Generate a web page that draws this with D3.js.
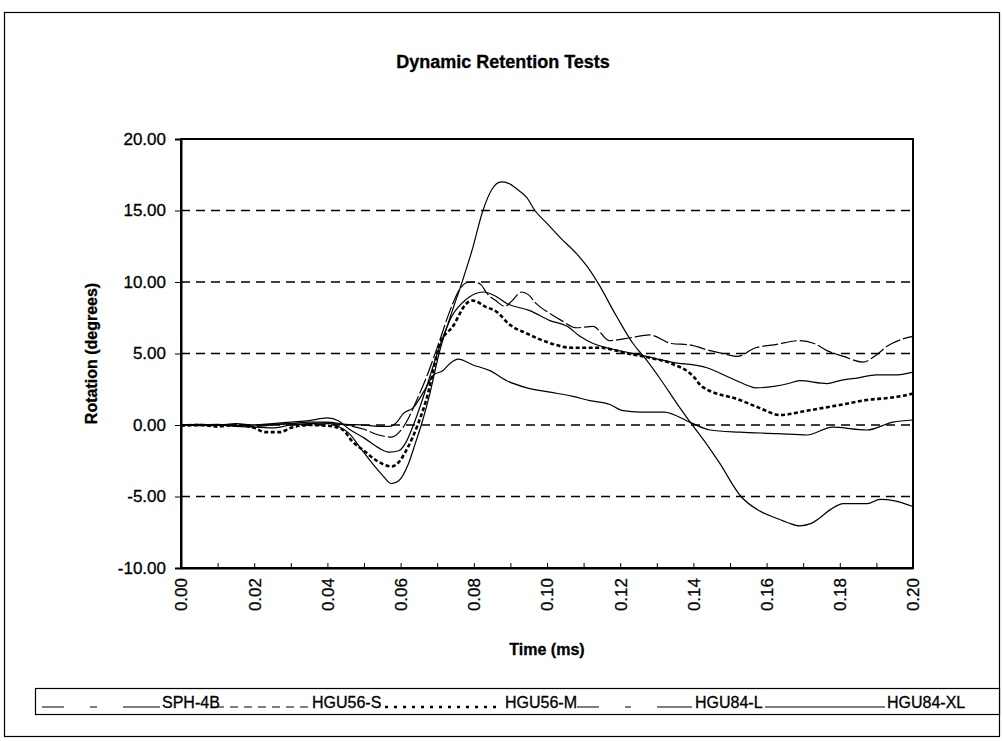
<!DOCTYPE html>
<html>
<head>
<meta charset="utf-8">
<script src="https://cdn.jsdelivr.net/npm/d3@7/dist/d3.min.js"></script>
<style>
  html, body { margin: 0; padding: 0; background: #fff; }
  svg { display: block; font-family: "Liberation Sans", Arial, sans-serif; }
  svg text { stroke: #000; stroke-width: 0.3px; fill: #000; }
</style>
</head>
<body>
<svg id="chart" width="1002" height="741"></svg>
<script>
// ---------- data ----------
const seriesNames = ["SPH-4B", "HGU56-S", "HGU56-M", "HGU84-L", "HGU84-XL"];
const yTicks = [-10, -5, 0, 5, 10, 15, 20];
const gridValues = [-5, 0, 5, 10, 15];
const xTickLabels = [0, 0.02, 0.04, 0.06, 0.08, 0.10, 0.12, 0.14, 0.16, 0.18, 0.20];

// [time (ms), rotation (degrees)]
const sph4b = [[0,0],[0.005,0],[0.01,-0.05],[0.015,0],[0.02,-0.1],[0.025,0],[0.03,0.1],[0.035,0],[0.04,0.1],[0.045,0],[0.05,-0.3],[0.054,-0.7],[0.0575,-0.85],[0.06,-0.4],[0.062,0.4],[0.064,1.5],[0.067,3.3],[0.0708,6],[0.0735,8],[0.0762,9.5],[0.078,9.95],[0.08,10.0],[0.082,9.8],[0.0836,9.2],[0.086,8.7],[0.0885,8.3],[0.0905,8.7],[0.093,9.3],[0.095,9.1],[0.097,8.5],[0.1008,7.8],[0.104,7.3],[0.108,6.8],[0.1126,6.9],[0.117,5.9],[0.1227,6.1],[0.128,6.3],[0.134,5.7],[0.139,5.6],[0.1445,5.2],[0.148,5.0],[0.152,4.8],[0.157,5.4],[0.162,5.6],[0.169,5.9],[0.173,5.7],[0.1765,5.2],[0.181,4.8],[0.1863,4.4],[0.19,4.9],[0.1929,5.5],[0.197,6.0],[0.2,6.2]];
const hgu56s = [[0,0],[0.005,0],[0.01,0.05],[0.015,-0.05],[0.02,0],[0.025,0.05],[0.03,0.1],[0.035,0.2],[0.04,0.2],[0.045,0.05],[0.05,0],[0.054,-0.1],[0.057,-0.1],[0.059,0.2],[0.0607,0.8],[0.0634,1.2],[0.0665,2.4],[0.069,3.5],[0.0715,3.8],[0.0735,4.3],[0.0757,4.6],[0.0798,4.2],[0.0844,3.8],[0.089,3.1],[0.0945,2.6],[0.1008,2.3],[0.1071,2.0],[0.1117,1.7],[0.117,1.45],[0.1208,1.0],[0.1254,0.9],[0.132,0.9],[0.139,0.2],[0.1445,-0.35],[0.1527,-0.5],[0.163,-0.6],[0.171,-0.7],[0.178,-0.15],[0.1874,-0.35],[0.1945,0.2],[0.2,0.35]];
const hgu56m = [[0,-0.05],[0.005,0],[0.01,-0.1],[0.015,0],[0.02,-0.2],[0.023,-0.5],[0.027,-0.5],[0.03,-0.2],[0.035,0],[0.04,-0.05],[0.044,-0.3],[0.047,-1.2],[0.05,-1.8],[0.0535,-2.5],[0.0575,-2.9],[0.0595,-2.6],[0.0615,-1.8],[0.0648,0.1],[0.067,1.75],[0.0708,5.7],[0.0743,6.9],[0.078,8.5],[0.0798,8.7],[0.083,8.3],[0.0863,7.9],[0.0899,7.0],[0.0945,6.4],[0.1,5.8],[0.107,5.4],[0.1145,5.4],[0.122,5.0],[0.128,4.7],[0.134,4.3],[0.14,3.4],[0.1423,2.7],[0.1527,1.75],[0.158,1.2],[0.1637,0.7],[0.171,1.0],[0.18,1.4],[0.1874,1.75],[0.1935,1.9],[0.1984,2.1],[0.2,2.2]];
const hgu84l = [[0,0],[0.005,0.05],[0.01,0],[0.015,0.1],[0.02,0],[0.025,0.1],[0.03,0.2],[0.035,0.3],[0.04,0.5],[0.043,0.3],[0.046,-0.3],[0.05,-0.9],[0.054,-1.6],[0.057,-1.9],[0.0595,-1.8],[0.0615,-1.2],[0.0635,0],[0.066,1.8],[0.0685,3.8],[0.0708,5.6],[0.074,7.6],[0.078,8.8],[0.0826,9.3],[0.086,9.0],[0.089,8.5],[0.0953,8.0],[0.1008,7.3],[0.1055,6.9],[0.109,6.2],[0.1126,5.7],[0.118,5.3],[0.1254,4.9],[0.134,4.4],[0.1437,4.0],[0.15,3.3],[0.1545,2.8],[0.157,2.6],[0.162,2.7],[0.166,2.9],[0.169,3.1],[0.1765,2.9],[0.18,3.1],[0.185,3.3],[0.19,3.5],[0.195,3.5],[0.2,3.7]];
const hgu84xl = [[0,0],[0.005,-0.05],[0.01,0],[0.015,-0.1],[0.02,-0.15],[0.025,-0.2],[0.03,0],[0.035,0.1],[0.04,0.15],[0.043,-0.1],[0.046,-0.6],[0.049,-1.6],[0.052,-2.6],[0.055,-3.5],[0.0575,-4.1],[0.0595,-3.9],[0.062,-2.8],[0.064,-1.3],[0.066,0.3],[0.068,2.2],[0.0705,5],[0.0735,7.5],[0.0768,10],[0.0795,12.2],[0.0825,15],[0.085,16.5],[0.0875,17],[0.0895,16.9],[0.0918,16.5],[0.0945,15.9],[0.0967,15],[0.1,14.1],[0.104,13.0],[0.108,12.0],[0.1115,10.9],[0.114,9.9],[0.119,7.6],[0.1235,5.7],[0.127,4.6],[0.131,3.2],[0.1355,1.5],[0.14,-0.1],[0.1435,-1.3],[0.147,-2.6],[0.153,-5],[0.158,-6],[0.1625,-6.5],[0.166,-6.85],[0.169,-7.05],[0.172,-6.9],[0.1745,-6.5],[0.1775,-5.9],[0.181,-5.5],[0.1875,-5.5],[0.191,-5.2],[0.195,-5.3],[0.2,-5.7]];

const seriesData = [sph4b, hgu56s, hgu56m, hgu84l, hgu84xl];

// ---------- styles ----------
const lineStyles = [
  { width: 1.2, dash: "16,3" },
  { width: 1.2, dash: null },
  { width: 2.6, dash: "4,2.5" },
  { width: 1.2, dash: null },
  { width: 1.2, dash: null }
];
const legendStyles = [
  { width: 1.2, dash: "22,26,7,26,40" },
  { width: 1.2, dash: "8,6" },
  { width: 2.4, dash: "3,6" },
  { width: 1.2, dash: "22,26,6,26,40" },
  { width: 1.2, dash: null }
];
const legendLayout = [
  { x1: 42, x2: 160, tx: 162 },
  { x1: 216, x2: 310, tx: 312 },
  { x1: 385, x2: 502, tx: 505 },
  { x1: 577, x2: 692, tx: 695 },
  { x1: 765, x2: 885, tx: 887 }
];

// ---------- layout ----------
const svg = d3.select("#chart");
const L = 181, R = 913, T = 139, B = 568;

const x = d3.scaleLinear().domain([0, 0.2]).range([L, R]);
const y = d3.scaleLinear().domain([-10, 20]).range([B, T]);

// outer border
svg.append("rect").attr("x", 4.5).attr("y", 12.5).attr("width", 995).attr("height", 724)
  .attr("fill", "none").attr("stroke", "#000").attr("stroke-width", 1.2);

// title
svg.append("text").attr("x", 503).attr("y", 68).attr("text-anchor", "middle")
  .style("font-size", "18px").style("font-weight", "bold").text("Dynamic Retention Tests");

// gridlines
svg.append("g").selectAll("line").data(gridValues).join("line")
  .attr("x1", L).attr("x2", R).attr("y1", d => y(d)).attr("y2", d => y(d))
  .attr("stroke", "#000").attr("stroke-width", 1.3).attr("stroke-dasharray", "9,6");

// frame
svg.append("rect").attr("x", L).attr("y", T).attr("width", R - L).attr("height", B - T)
  .attr("fill", "none").attr("stroke", "#000").attr("stroke-width", 2);

// y axis
const yAxis = svg.append("g").attr("transform", `translate(${L},0)`)
  .call(d3.axisLeft(y).tickValues(yTicks).tickSize(6).tickFormat(d => d.toFixed(2)));
yAxis.select(".domain").attr("stroke-width", 2);
yAxis.selectAll("text").style("font-size", "17px").style("font-family", "Liberation Sans, Arial, sans-serif")
  .attr("x", -15);

// x axis
const xTickVals = d3.range(0, 21).map(i => i / 100);
const xAxis = svg.append("g").attr("transform", `translate(0,${B})`)
  .call(d3.axisBottom(x).tickValues(xTickVals).tickSizeInner(-5).tickSizeOuter(0)
    .tickFormat(d => xTickLabels.some(v => Math.abs(v - d) < 1e-9) ? d.toFixed(2) : ""));
xAxis.select(".domain").attr("stroke-width", 2);
xAxis.selectAll("text")
  .style("font-size", "17px").style("font-family", "Liberation Sans, Arial, sans-serif")
  .attr("y", 0).attr("x", -10).attr("dy", "0.35em")
  .attr("transform", "rotate(-90)").style("text-anchor", "end");

// axis titles
svg.append("text").attr("x", 547).attr("y", 655).attr("text-anchor", "middle")
  .style("font-size", "16px").style("font-weight", "bold").text("Time (ms)");
svg.append("text").attr("transform", `translate(97,${(T + B) / 2}) rotate(-90)`).attr("text-anchor", "middle")
  .style("font-size", "16px").style("font-weight", "bold").text("Rotation (degrees)");

// data lines
const line = d3.line().x(d => x(d[0])).y(d => y(d[1])).curve(d3.curveMonotoneX);
const gLines = svg.append("g");
seriesData.forEach((data, i) => {
  gLines.append("path").datum(data).attr("d", line)
    .attr("fill", "none").attr("stroke", "#000")
    .attr("stroke-width", lineStyles[i].width)
    .attr("stroke-dasharray", lineStyles[i].dash)
    .attr("stroke-linejoin", "round");
});

// legend
svg.append("rect").attr("x", 35.5).attr("y", 688.5).attr("width", 964).attr("height", 26)
  .attr("fill", "#fff").attr("stroke", "#000").attr("stroke-width", 1.2);
const gLeg = svg.append("g");
seriesNames.forEach((name, i) => {
  const lay = legendLayout[i];
  gLeg.append("line").attr("x1", lay.x1).attr("x2", lay.x2).attr("y1", 707).attr("y2", 707)
    .attr("stroke", "#000").attr("stroke-width", legendStyles[i].width)
    .attr("stroke-dasharray", legendStyles[i].dash);
  gLeg.append("text").attr("x", lay.tx).attr("y", 708)
    .style("font-size", "16px").text(name);
});
</script>
</body>
</html>
